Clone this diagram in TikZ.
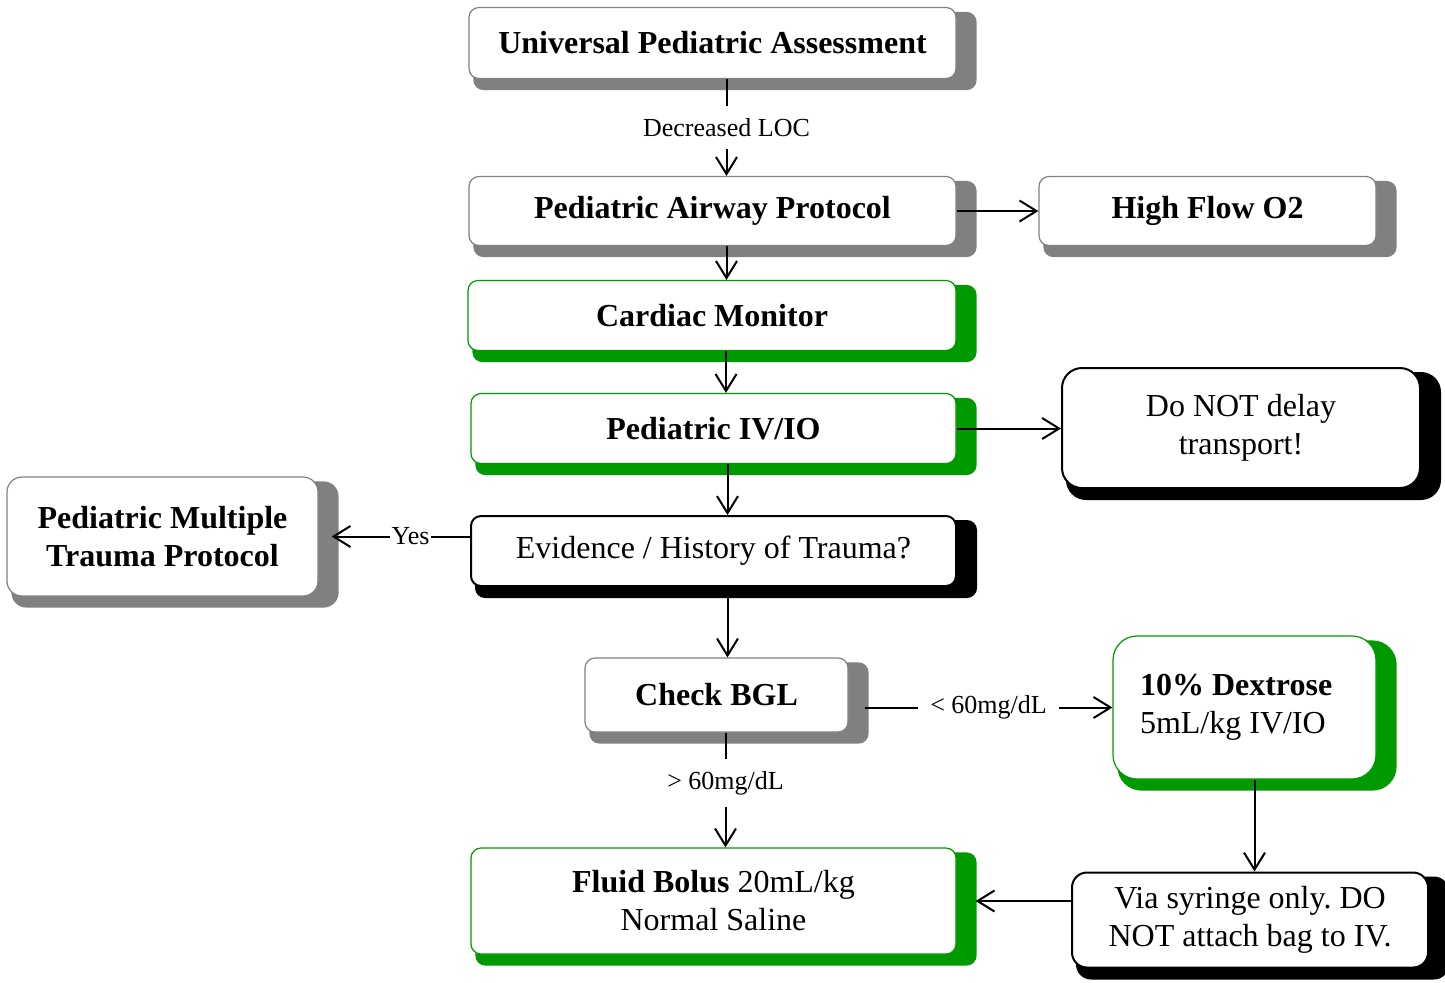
\documentclass[tikz,border=0pt]{standalone}
\usepackage{fontspec}
\setmainfont{Liberation Serif}
\usetikzlibrary{arrows.meta,backgrounds}
\definecolor{shadegray}{RGB}{128,128,128}
\definecolor{okgreen}{RGB}{0,153,0}
\frenchspacing
\begin{document}
\begin{tikzpicture}[x=0.5pt, y=-0.5pt, >={Straight Barb[length=8.5pt,width=10.5pt]},
    box/.style={draw, fill=white, rounded corners=5pt, inner sep=2pt, align=center, font=\fontsize{16}{19}\selectfont},
    graybox/.style={box, draw=shadegray, line width=0.6pt},
    greenbox/.style={box, draw=okgreen, line width=0.6pt},
    blackbox/.style={box, draw=black, line width=1pt},
    lbl/.style={fill=white, font=\fontsize{13}{15}\selectfont, inner sep=6pt},
    conn/.style={->, line width=1pt}]
    \useasboundingbox (0,0) rectangle (1445,982);

    % main column
    \node[graybox, minimum width=243.5pt, minimum height=35.5pt] (upa) at (712.5,43) {\textbf{Universal Pediatric Assessment}};
    \node[graybox, minimum width=243.5pt, minimum height=34.5pt] (pap) at (712.5,211) {\textbf{Pediatric Airway Protocol}};
    \node[greenbox, minimum width=244pt, minimum height=35pt] (cardiac) at (712,315.5) {\textbf{Cardiac Monitor}};
    \node[greenbox, minimum width=242.5pt, minimum height=35pt] (ivio) at (713.5,428.5) {\textbf{Pediatric IV/IO}};
    \node[blackbox, minimum width=242.5pt, minimum height=35pt] (trauma) at (713.5,551) {Evidence / History of Trauma?};
    \node[graybox, minimum width=131.5pt, minimum height=37pt] (bgl) at (716.5,695) {\textbf{Check BGL}};
    \node[greenbox, minimum width=242.5pt, minimum height=53pt] (fluid) at (713.5,901) {\textbf{Fluid Bolus} 20mL/kg\\Normal Saline};

    % side boxes
    \node[graybox, minimum width=168.5pt, minimum height=34.5pt] (hfo) at (1207.5,211) {\textbf{High Flow O2}};
    \node[blackbox, rounded corners=10pt, minimum width=179pt, minimum height=60pt] (donot) at (1241,428) {Do NOT delay\\transport!};
    \node[graybox, rounded corners=7.5pt, minimum width=155.5pt, minimum height=59.5pt] (pmtp) at (162.5,536.5) {\textbf{Pediatric Multiple}\\\textbf{Trauma Protocol}};
    \node[greenbox, rounded corners=12pt, align=flush left, text width=104.5pt, minimum width=131.5pt, minimum height=71.5pt] (dex) at (1244.5,707.5) {\textbf{10\% Dextrose}\\5mL/kg IV/IO};
    \node[blackbox, rounded corners=7.5pt, minimum width=178pt, minimum height=47.5pt] (via) at (1250,920) {Via syringe only. DO\\NOT attach bag to IV.};

    % shadows
    \begin{scope}[on background layer]
        \foreach \n/\c/\r in {upa/shadegray/5pt, pap/shadegray/5pt, hfo/shadegray/5pt, cardiac/okgreen/5pt,
                ivio/okgreen/5pt, donot/black/10pt, pmtp/shadegray/7.5pt, trauma/black/5pt,
                bgl/shadegray/5pt, dex/okgreen/12pt, fluid/okgreen/5pt, via/black/7.5pt}
            \fill[\c, rounded corners=\r] ([shift={(5,5)}]\n.north west) rectangle ([shift={(20,11)}]\n.south east);
    \end{scope}

    % connectors
    \draw[conn] ([xshift=7pt]upa.south) -- node[lbl] {Decreased LOC} ([xshift=7pt]pap.north);
    \draw[conn] (pap.east) -- (hfo.west);
    \draw[conn] ([xshift=7pt]pap.south) -- ([xshift=7pt]pap.south |- cardiac.north);
    \draw[conn] ([xshift=7pt]cardiac.south) -- ([xshift=7pt]cardiac.south |- ivio.north);
    \draw[conn] (ivio.east) -- (ivio.east -| donot.west);
    \draw[conn] ([xshift=7pt]ivio.south) -- ([xshift=7pt]ivio.south |- trauma.north);
    \draw[conn] (trauma.west |- pmtp.east) -- node[lbl, inner sep=1pt, pos=0.43] {Yes} ([xshift=6.5pt]pmtp.east);
    \draw[conn] ([xshift=7pt]trauma.south) -- ([xshift=7pt]trauma.south |- bgl.north);
    \draw[conn] ([xshift=8pt]bgl.east |- dex.west) -- node[lbl] {< 60mg/dL} (dex.west);
    \draw[conn] ([xshift=4.5pt]bgl.south) -- node[lbl, pos=0.44] {> 60mg/dL} ([xshift=4.5pt]bgl.south |- fluid.north);
    \draw[conn] ([xshift=5pt]dex.south) -- ([xshift=5pt]dex.south |- via.north);
    \draw[conn] (via.west |- fluid.east) -- ([xshift=9.5pt]fluid.east);
\end{tikzpicture}
\end{document}
